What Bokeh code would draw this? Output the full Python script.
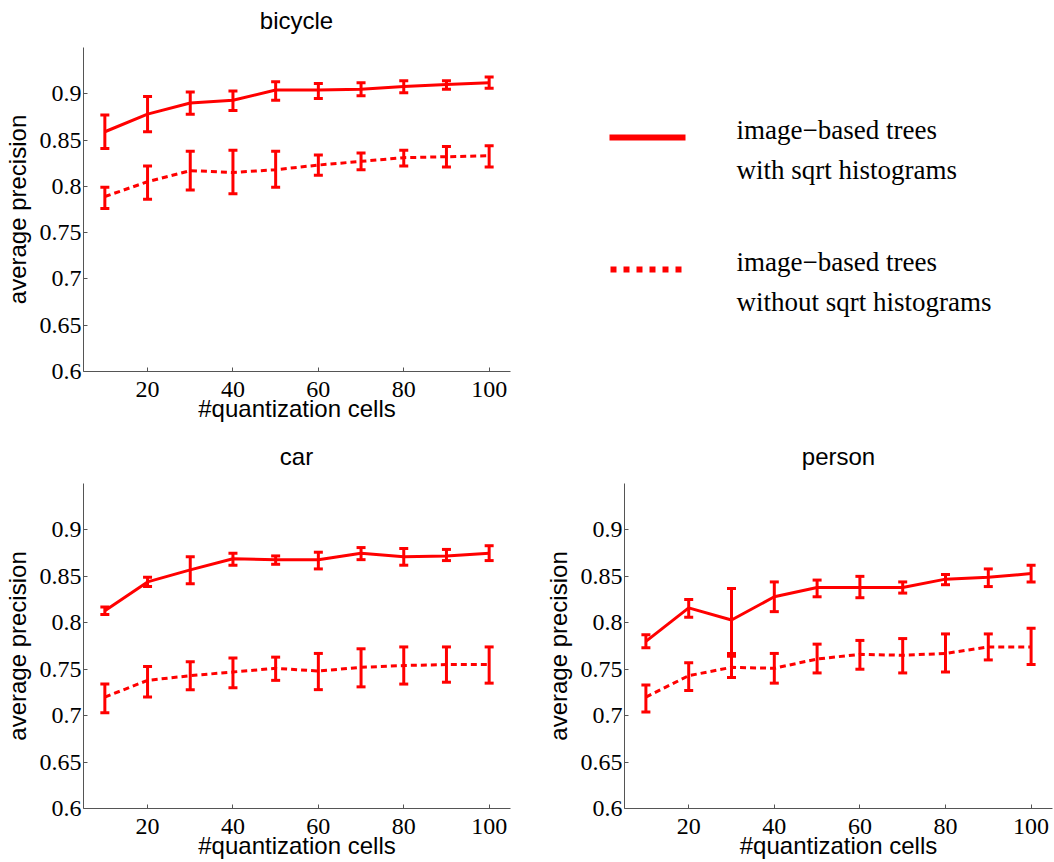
from bokeh.plotting import figure
from bokeh.models import Range1d, FixedTicker, Whisker, TeeHead, ColumnDataSource
from bokeh.layouts import column, row
from bokeh.embed import file_html
from bokeh.resources import INLINE
from bokeh.core.properties import value

# ---------------- data ----------------
cells = [10, 20, 30, 40, 50, 60, 70, 80, 90, 100]

bicycle_sqrt = [0.859, 0.878, 0.890, 0.893, 0.904, 0.904, 0.905, 0.908, 0.910, 0.912]
bicycle_sqrt_lo = [0.841, 0.859, 0.878, 0.882, 0.893, 0.895, 0.898, 0.901, 0.905, 0.906]
bicycle_sqrt_hi = [0.877, 0.897, 0.902, 0.903, 0.913, 0.911, 0.912, 0.914, 0.914, 0.918]
bicycle_nosqrt = [0.789, 0.805, 0.817, 0.815, 0.818, 0.823, 0.827, 0.831, 0.832, 0.833]
bicycle_nosqrt_lo = [0.776, 0.786, 0.796, 0.792, 0.799, 0.812, 0.818, 0.822, 0.821, 0.821]
bicycle_nosqrt_hi = [0.799, 0.822, 0.838, 0.839, 0.838, 0.834, 0.836, 0.839, 0.843, 0.844]

car_sqrt = [0.813, 0.844, 0.857, 0.869, 0.868, 0.868, 0.875, 0.871, 0.872, 0.875]
car_sqrt_lo = [0.809, 0.839, 0.842, 0.862, 0.863, 0.858, 0.868, 0.862, 0.867, 0.867]
car_sqrt_hi = [0.817, 0.849, 0.871, 0.875, 0.872, 0.876, 0.881, 0.880, 0.879, 0.883]
car_nosqrt = [0.720, 0.738, 0.743, 0.747, 0.751, 0.748, 0.752, 0.754, 0.755, 0.755]
car_nosqrt_lo = [0.703, 0.720, 0.728, 0.730, 0.738, 0.728, 0.731, 0.734, 0.736, 0.735]
car_nosqrt_hi = [0.734, 0.753, 0.758, 0.762, 0.763, 0.767, 0.772, 0.774, 0.774, 0.774]

person_sqrt = [0.780, 0.816, 0.803, 0.828, 0.838, 0.838, 0.838, 0.847, 0.849, 0.853]
person_sqrt_lo = [0.773, 0.806, 0.767, 0.812, 0.828, 0.827, 0.832, 0.841, 0.839, 0.844]
person_sqrt_hi = [0.787, 0.825, 0.837, 0.844, 0.846, 0.850, 0.844, 0.852, 0.858, 0.862]
person_nosqrt = [0.720, 0.743, 0.752, 0.751, 0.761, 0.766, 0.765, 0.767, 0.774, 0.774]
person_nosqrt_lo = [0.704, 0.727, 0.741, 0.735, 0.746, 0.750, 0.746, 0.747, 0.760, 0.755]
person_nosqrt_hi = [0.733, 0.757, 0.764, 0.767, 0.777, 0.781, 0.783, 0.788, 0.788, 0.794]

x_ticks = [20, 40, 60, 80, 100]
y_ticks = [0.6, 0.65, 0.7, 0.75, 0.8, 0.85, 0.9]
y_tick_labels = ["0.6", "0.65", "0.7", "0.75", "0.8", "0.85", "0.9"]

titles = ["bicycle", "car", "person"]
x_label = "#quantization cells"
y_label = "average precision"
legend_labels = [["image\u2212based trees", "with sqrt histograms"],
                 ["image\u2212based trees", "without sqrt histograms"]]

RED = "#ff0000"
AXIS = "#555555"
SANS = "Liberation Sans"
SERIF = "Liberation Serif"
X_MIN, X_MAX = 5, 105
Y_MIN, Y_MAX = 0.6, 0.95
W = 1054


def blank(w, h, y_top, y_bottom, bottom=0):
    """Axis-less figure whose y range is in page pixels (y_top..y_bottom)."""
    f = figure(width=w, height=h, output_backend="svg", toolbar_location=None,
               x_range=Range1d(0, w), y_range=Range1d(y_bottom, y_top),
               min_border_left=0, min_border_right=0, min_border_top=0,
               min_border_bottom=bottom, x_axis_location=None, y_axis_location=None)
    f.outline_line_color = None
    f.grid.visible = False
    return f


def make_panel(w, h, left, right, bottom, s, s_lo, s_hi, n, n_lo, n_hi):
    p = figure(width=w, height=h, output_backend="svg", toolbar_location=None,
               x_range=Range1d(X_MIN, X_MAX), y_range=Range1d(Y_MIN, Y_MAX),
               min_border_left=left, min_border_right=right,
               min_border_top=0, min_border_bottom=bottom)
    p.outline_line_color = None
    p.grid.visible = False
    p.background_fill_color = "white"
    p.border_fill_color = "white"

    p.xaxis.ticker = FixedTicker(ticks=x_ticks)
    p.yaxis.ticker = FixedTicker(ticks=y_ticks)
    p.yaxis.major_label_overrides = dict(zip(y_ticks, y_tick_labels))
    for ax in (p.xaxis[0], p.yaxis[0]):
        ax.axis_line_color = AXIS
        ax.axis_line_width = 1
        ax.major_tick_line_color = AXIS
        ax.major_tick_in = 4
        ax.major_tick_out = 0
        ax.minor_tick_line_color = None
        ax.major_label_text_font = SERIF
        ax.major_label_text_font_size = "24px"
        ax.major_label_text_color = "black"
        ax.axis_label_text_font = SANS
        ax.axis_label_text_font_size = "24px"
        ax.axis_label_text_font_style = "normal"
        ax.axis_label_text_color = "black"
    p.xaxis.axis_label = x_label
    p.yaxis.axis_label = y_label
    p.xaxis.major_label_standoff = 10
    p.xaxis.axis_label_standoff = -5
    p.yaxis.major_label_standoff = 2
    p.yaxis.axis_label_standoff = 6

    for vals, lo, hi, dash in ((s, s_lo, s_hi, "solid"), (n, n_lo, n_hi, "6 4")):
        src = ColumnDataSource(dict(x=cells, y=vals, lower=lo, upper=hi))
        p.line("x", "y", source=src, line_color=RED, line_width=3, line_dash=dash)
        wk = Whisker(base="x", lower="lower", upper="upper", source=src,
                     line_color=RED, line_width=3,
                     upper_head=TeeHead(size=9, line_color=RED, line_width=3),
                     lower_head=TeeHead(size=9, line_color=RED, line_width=3))
        p.add_layout(wk)
    return p


title_kw = dict(text_align="center", text_baseline="alphabetic",
                text_font=value(SANS), text_font_size="24px", text_color="black")

# title strip above the top row (page y 0..47)
t1 = blank(W, 47, 0, 47)
t1.text(x=[296], y=[20], text=[titles[0]], **title_kw)

bike = make_panel(540, 383, 82, 30, 59,
                  bicycle_sqrt, bicycle_sqrt_lo, bicycle_sqrt_hi,
                  bicycle_nosqrt, bicycle_nosqrt_lo, bicycle_nosqrt_hi)

# legend panel: frame spans page y 47..371
leg = blank(514, 383, 47, 371, bottom=59)
leg.line([69, 145], [137, 137], line_color=RED, line_width=6)
leg.line([70, 145], [269, 269], line_color=RED, line_width=6, line_dash="6 7")
leg.text(x=[196, 196, 196, 196], y=[129, 169, 261, 301],
         text=legend_labels[0] + legend_labels[1],
         text_font=value(SERIF), text_font_size="27px", text_color="black",
         text_align="left", text_baseline="middle")

# title strip above the bottom row (page y 430..483)
t2 = blank(W, 53, 430, 483)
t2.text(x=[296, 838], y=[456, 456], text=titles[1:], **title_kw)

car = make_panel(540, 379, 82, 30, 54,
                 car_sqrt, car_sqrt_lo, car_sqrt_hi,
                 car_nosqrt, car_nosqrt_lo, car_nosqrt_hi)
person = make_panel(514, 379, 84, 2, 54,
                    person_sqrt, person_sqrt_lo, person_sqrt_hi,
                    person_nosqrt, person_nosqrt_lo, person_nosqrt_hi)

layout = column(t1, row(bike, leg), t2, row(car, person))

open("out.html", "w").write(file_html(layout, INLINE))
